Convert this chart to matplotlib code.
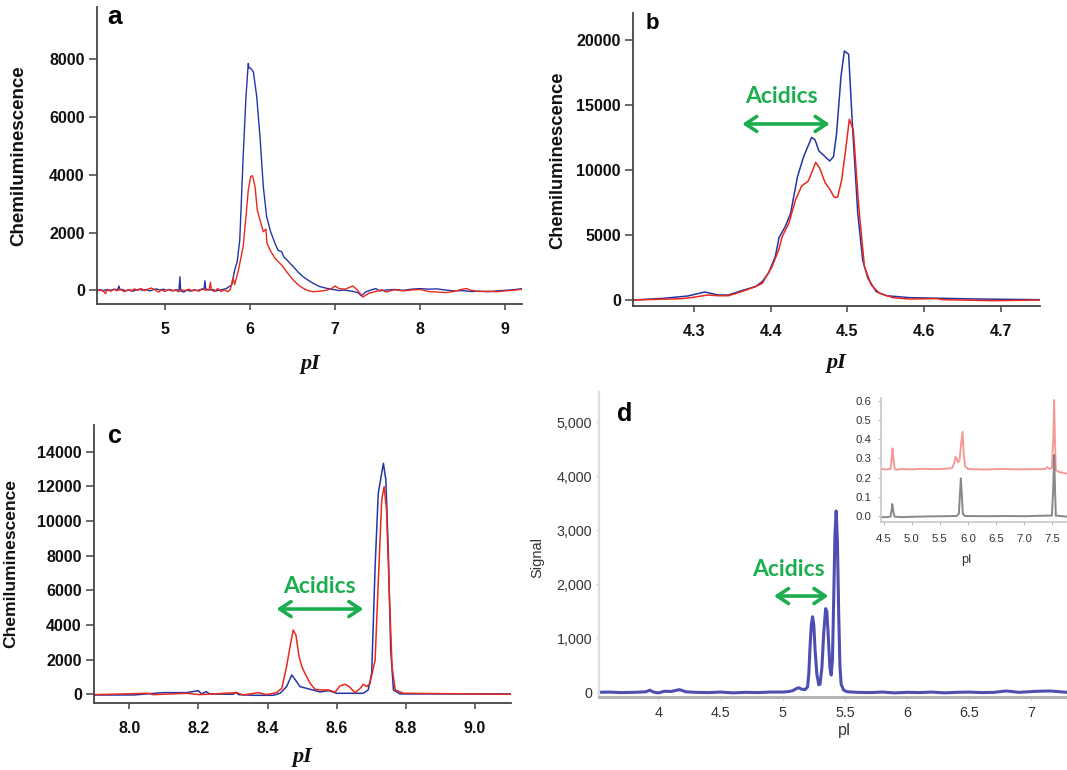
import matplotlib
matplotlib.use("Agg")
import matplotlib.pyplot as plt
from matplotlib.ticker import FuncFormatter, FixedLocator

# ---------------- data ----------------
# Panel a
a_blue_x = [4.204, 4.24, 4.28, 4.32, 4.36, 4.40, 4.44, 4.46, 4.47, 4.50, 4.54, 4.58, 4.62, 4.66, 4.70,
            4.74, 4.78, 4.82, 4.86, 4.90, 4.94, 4.98, 5.02, 5.06, 5.10, 5.14, 5.165, 5.176, 5.185, 5.22,
            5.26, 5.30, 5.34, 5.38, 5.42, 5.46, 5.47, 5.48, 5.52, 5.56, 5.60, 5.64, 5.68, 5.72, 5.75,
            5.785, 5.82, 5.85, 5.88, 5.92, 5.953, 5.98, 5.99, 6.008, 6.04, 6.08, 6.118, 6.157, 6.196,
            6.243, 6.294, 6.33, 6.372, 6.40, 6.43, 6.47, 6.51, 6.57, 6.627, 6.69, 6.745, 6.82, 6.902,
            6.95, 7.0, 7.05, 7.1, 7.2, 7.27, 7.31, 7.36, 7.42, 7.48, 7.52, 7.6, 7.7, 7.8, 7.9, 8.0,
            8.1, 8.2, 8.3, 8.4, 8.5, 8.6, 8.7, 8.8, 8.9, 9.0, 9.1, 9.205]
a_blue_y = [10, 20, -10, 30, 0, 40, 20, 150, 10, 30, -20, 20, -30, 10, 40,
            0, 30, -20, 20, 50, 10, 40, 0, 30, -20, 20, 0, 470, -20, -60,
            10, -30, 20, -10, 30, 40, 330, 50, 10, 30, -20, 10, 30, 60, 120,
            180, 700, 1000, 1740, 4630, 6700, 7860, 7700, 7690, 7570, 6700, 5320, 3590, 2550,
            2030, 1630, 1390, 1340, 1150, 1070, 940, 820, 620, 470, 340, 240, 130, 70,
            40, 20, -10, 10, -30, -80, -190, -60, 10, 60, -20, 10, 30, 0, 40, 60,
            40, 50, 10, -20, -10, -40, -30, -50, -20, 0, 20, 60]
a_red_x = [4.204, 4.24, 4.28, 4.30, 4.32, 4.36, 4.40, 4.44, 4.48, 4.52, 4.56, 4.60, 4.64, 4.68, 4.72,
           4.76, 4.80, 4.84, 4.88, 4.92, 4.96, 5.0, 5.04, 5.08, 5.12, 5.16, 5.20, 5.24, 5.28, 5.32,
           5.36, 5.40, 5.44, 5.48, 5.52, 5.535, 5.545, 5.58, 5.62, 5.66, 5.70, 5.74, 5.77, 5.80, 5.82,
           5.86, 5.92, 5.953, 5.98, 6.008, 6.03, 6.06, 6.086, 6.118, 6.157, 6.188, 6.2, 6.235, 6.294,
           6.353, 6.38, 6.43, 6.51, 6.57, 6.627, 6.69, 6.75, 6.82, 6.9, 6.97, 7.0, 7.05, 7.12, 7.21,
           7.26, 7.33, 7.4, 7.48, 7.55, 7.6, 7.7, 7.8, 7.9, 8.0, 8.1, 8.2, 8.3, 8.4, 8.5, 8.55, 8.6,
           8.7, 8.8, 8.9, 9.0, 9.1, 9.205]
a_red_y = [-20, 10, -40, -120, 20, -30, 30, -10, 40, -50, 20, -20, 50, 0, 60,
           -10, 40, 80, 20, -60, 10, -40, 30, -20, 20, -50, 20, -10, 40, -20,
           10, -30, 60, 0, 30, 280, 20, -40, 60, -40, 20, -50, 30, 420, 200,
           640, 1510, 2550, 3470, 3940, 3970, 3590, 2780, 2440, 2030, 2120, 1630, 1400, 1110,
           935, 850, 645, 357, 180, 70, -20, -50, -30, 0, 80, 150, 60, 40, 150,
           20, -230, -100, -40, 20, -60, 20, -20, 10, 30, -40, -60, -80, -40, 40, 60, 0,
           -40, -30, -50, -20, 0, 40]

# Panel b
b_blue_x = [4.221, 4.26, 4.292, 4.314, 4.332, 4.345, 4.362, 4.38, 4.389, 4.397, 4.406, 4.411, 4.419,
            4.426, 4.435, 4.443, 4.4535, 4.4578, 4.463, 4.47, 4.477, 4.482, 4.486, 4.4917, 4.4961,
            4.5017, 4.507, 4.5136, 4.52, 4.5268, 4.5377, 4.551, 4.5815, 4.6254, 4.669, 4.751]
b_blue_y = [0, 128, 308, 615, 385, 385, 718, 1026, 1410, 2050, 3330, 4820, 5640,
            6670, 9490, 11030, 12510, 12330, 11460, 11080, 10690, 11030, 12820, 17180, 19150,
            18900, 13080, 6670, 3080, 1670, 640, 330, 180, 130, 77, 25]
b_red_x = [4.221, 4.283, 4.296, 4.318, 4.332, 4.345, 4.362, 4.38, 4.389, 4.4018, 4.4105, 4.415, 4.4237,
           4.4324, 4.4404, 4.4491, 4.4588, 4.464, 4.471, 4.4763, 4.483, 4.4873, 4.4926, 4.4983,
           4.5026, 4.5078, 4.5149, 4.5223, 4.5312, 4.5421, 4.5596, 4.58, 4.617, 4.625, 4.69, 4.751]
b_red_y = [0, 100, 180, 385, 330, 330, 640, 1026, 1280, 2560, 3850, 4870, 5900,
           7690, 8770, 9150, 10590, 10130, 9030, 8590, 7900, 7900, 9230, 11790,
           13900, 13080, 7180, 2560, 1150, 510, 180, 77, 100, 25, -50, 0]

# Panel c
c_blue_x = [7.899, 8.012, 8.098, 8.166, 8.2, 8.209, 8.222, 8.233, 8.30, 8.309, 8.316, 8.359, 8.417,
            8.436, 8.455, 8.47, 8.479, 8.494, 8.523, 8.552, 8.576, 8.6, 8.677, 8.691, 8.701, 8.711,
            8.72, 8.735, 8.742, 8.749, 8.756, 8.764, 8.783, 8.841, 9.103]
c_blue_y = [-40, -40, 96, 96, 211, 20, 154, 20, 0, 115, -20, -58, -58,
            58, 442, 1115, 865, 442, 288, 135, 211, 58, 58, 250, 1210, 7365,
            11600, 13330, 12365, 8330, 2560, 250, 20, 20, 20]
c_red_x = [7.899, 8.055, 8.069, 8.166, 8.204, 8.31, 8.33, 8.373, 8.397, 8.426, 8.441, 8.455, 8.465,
           8.474, 8.482, 8.491, 8.499, 8.508, 8.523, 8.537, 8.552, 8.576, 8.595, 8.609, 8.624, 8.636,
           8.653, 8.667, 8.677, 8.687, 8.696, 8.711, 8.72, 8.73, 8.737, 8.744, 8.752, 8.76, 8.769,
           8.793, 9.103]
c_red_y = [-20, 58, -20, 58, -20, 96, -40, 96, -20, 96, 346, 1600, 2750,
           3710, 3420, 2170, 1600, 1210, 635, 288, 250, 250, 115, 480, 577, 442,
           96, 327, 577, 442, 635, 1980, 6400, 11210, 11980, 10650, 5830, 1600, 250,
           58, 0]

# Panel d
d_x = [3.518, 3.6, 3.7, 3.8, 3.9, 3.93, 3.96, 4.0, 4.05, 4.1, 4.17, 4.22, 4.3, 4.4, 4.5, 4.6, 4.7,
       4.8, 4.9, 5.0, 5.05, 5.08, 5.11, 5.13, 5.15, 5.18, 5.2, 5.21, 5.22, 5.23, 5.24, 5.25, 5.26,
       5.275, 5.29, 5.30, 5.315, 5.33, 5.345, 5.355, 5.365, 5.38, 5.39, 5.40, 5.41, 5.42, 5.43,
       5.44, 5.45, 5.46, 5.47, 5.49, 5.52, 5.6, 5.7, 5.8, 5.9, 6.0, 6.1, 6.2, 6.3, 6.4, 6.5, 6.6,
       6.7, 6.8, 6.9, 7.05, 7.15, 7.287]
d_y = [0, 5, -5, 0, 10, 40, 5, -10, 20, 15, 50, 10, 0, -5, 5, -10, 0,
       -5, 5, 5, 15, 30, 70, 85, 60, 50, 100, 350, 850, 1250, 1400, 1250, 800,
       330, 140, 150, 450, 1100, 1550, 1500, 1100, 450, 320, 600, 1700, 2900, 3360,
       2800, 1500, 500, 150, 40, 10, 0, -5, 5, -10, 0, -5, 5, -10, 0, 5, -5,
       0, 25, 0, 20, 25, 0]

# Inset of panel d
ins_red_x = [4.44, 4.55, 4.62, 4.64, 4.655, 4.67, 4.69, 4.72, 4.8, 5.0, 5.2, 5.4, 5.6, 5.72, 5.76,
             5.78, 5.8, 5.82, 5.85, 5.88, 5.905, 5.925, 5.95, 6.0, 6.3, 6.6, 6.9, 7.2, 7.38, 7.42,
             7.46, 7.5, 7.525, 7.54, 7.555, 7.57, 7.62, 7.77]
ins_red_y = [0.245, 0.242, 0.245, 0.30, 0.353, 0.30, 0.25, 0.24, 0.245, 0.243, 0.246, 0.244, 0.246,
             0.25, 0.28, 0.31, 0.30, 0.28, 0.29, 0.38, 0.44, 0.33, 0.26, 0.245, 0.242, 0.245, 0.243,
             0.244, 0.245, 0.255, 0.245, 0.25, 0.40, 0.607, 0.40, 0.24, 0.23, 0.22]
ins_blk_x = [4.44, 4.55, 4.62, 4.64, 4.65, 4.665, 4.69, 4.8, 5.0, 5.3, 5.6, 5.8, 5.84, 5.86, 5.875,
             5.89, 5.91, 5.95, 6.3, 6.7, 7.0, 7.4, 7.5, 7.525, 7.54, 7.555, 7.57, 7.77]
ins_blk_y = [-0.008, -0.008, -0.005, 0.03, 0.061, 0.03, -0.005, -0.008, -0.006, -0.004, -0.003,
             -0.002, 0.01, 0.12, 0.196, 0.12, 0.01, -0.002, -0.003, -0.002, -0.003, 0.0, 0.0, 0.15,
             0.318, 0.15, 0.0, -0.005]

a_xticks = [5, 6, 7, 8, 9]
a_yticks = [0, 2000, 4000, 6000, 8000]
b_xticks = [4.3, 4.4, 4.5, 4.6, 4.7]
b_yticks = [0, 5000, 10000, 15000, 20000]
c_xticks = [8.0, 8.2, 8.4, 8.6, 8.8, 9.0]
c_yticks = [0, 2000, 4000, 6000, 8000, 10000, 12000, 14000]
d_xticks = [4, 4.5, 5, 5.5, 6, 6.5, 7]
d_yticks = [0, 1000, 2000, 3000, 4000, 5000]
ins_xticks = [4.5, 5.0, 5.5, 6.0, 6.5, 7.0, 7.5]
ins_yticks = [0.0, 0.1, 0.2, 0.3, 0.4, 0.5, 0.6]

# ---------------- figure ----------------
W, H = 1067, 770
fig = plt.figure(figsize=(W / 100, H / 100), dpi=100)
fig.patch.set_facecolor("white")

SANS = "Liberation Sans"
SERIF = "Liberation Serif"
BLUE = "#2436a6"
RED = "#e8291c"
GREEN = "#1cae4e"


def add_ax(l, t, r, b):
    return fig.add_axes([l / W, 1 - b / H, (r - l) / W, (b - t) / H])


def ftext(x, y, s, **kw):
    fig.text(x / W, 1 - y / H, s, **kw)


def style_chemi(ax, xticks, yticks, xfmt):
    for s in ("top", "right"):
        ax.spines[s].set_visible(False)
    for s in ("left", "bottom"):
        ax.spines[s].set_color("#444444")
        ax.spines[s].set_linewidth(1.3)
    ax.set_xticks(xticks)
    ax.set_yticks(yticks)
    ax.xaxis.set_major_formatter(FuncFormatter(xfmt))
    ax.yaxis.set_major_formatter(FuncFormatter(lambda v, p: f"{int(round(v))}"))
    ax.tick_params(axis="x", direction="out", length=4, width=1.1, color="#444444", pad=9)
    ax.tick_params(axis="y", direction="out", length=6, width=1.1, color="#444444", pad=3)
    for lab in ax.get_xticklabels() + ax.get_yticklabels():
        lab.set_fontfamily(SANS)
        lab.set_fontweight("bold")
        lab.set_fontsize(11.5)
        lab.set_color("#111111")


def acidics(ax, x0, x1, ya, xt, yt):
    ax.annotate("", xy=(x1, ya), xytext=(x0, ya),
                arrowprops=dict(arrowstyle="<->, head_length=0.45, head_width=0.3",
                                color=GREEN, lw=2.6, shrinkA=0, shrinkB=0, mutation_scale=18))
    ax.text(xt, yt, "Acidics", color=GREEN, fontfamily="Lato", fontweight="bold",
            fontsize=16.5, ha="center", va="center")


# Panel a
ax_a = add_ax(97.3, 7.3, 522.4, 304.3)
ax_a.plot(a_blue_x, a_blue_y, color=BLUE, lw=1.0)
ax_a.plot(a_red_x, a_red_y, color=RED, lw=1.0)
ax_a.set_xlim(4.204, 9.205)
ax_a.set_ylim(-484, 9803)
style_chemi(ax_a, a_xticks, a_yticks, lambda v, p: f"{int(round(v))}")

# Panel b
ax_b = add_ax(633.4, 13.3, 1039.8, 305.7)
ax_b.plot(b_blue_x, b_blue_y, color=BLUE, lw=1.1)
ax_b.plot(b_red_x, b_red_y, color=RED, lw=1.1)
ax_b.set_xlim(4.221, 4.751)
ax_b.set_ylim(-438, 22050)
style_chemi(ax_b, b_xticks, b_yticks, lambda v, p: f"{v:.1f}")
acidics(ax_b, 4.363, 4.477, 13540, 4.414, 15640)

# Panel c
ax_c = add_ax(94.3, 425, 510.7, 702.7)
ax_c.plot(c_blue_x, c_blue_y, color=BLUE, lw=1.1)
ax_c.plot(c_red_x, c_red_y, color=RED, lw=1.1)
ax_c.set_xlim(7.899, 9.103)
ax_c.set_ylim(-485, 15540)
style_chemi(ax_c, c_xticks, c_yticks, lambda v, p: f"{v:.1f}")
acidics(ax_c, 8.426, 8.677, 4920, 8.55, 6210)

# Panel d
ax_d = add_ax(598.5, 391.7, 1067, 696.7)
ax_d.plot(d_x, d_y, color="#3b3ba8", lw=2.2, alpha=0.9, solid_capstyle="round")
ax_d.set_xlim(3.518, 7.287)
ax_d.set_ylim(-81, 5567)
for s in ("top", "right"):
    ax_d.spines[s].set_visible(False)
ax_d.spines["left"].set_color("#dddddd")
ax_d.spines["left"].set_linewidth(1.6)
ax_d.spines["bottom"].set_color("#b0b0b0")
ax_d.spines["bottom"].set_linewidth(2.0)
ax_d.set_xticks(d_xticks)
ax_d.set_yticks(d_yticks)
ax_d.xaxis.set_major_formatter(FuncFormatter(lambda v, p: f"{v:g}"))
ax_d.yaxis.set_major_formatter(FuncFormatter(lambda v, p: f"{int(v):,}"))
ax_d.tick_params(axis="both", direction="out", length=2.5, width=0.8, color="#cccccc", pad=2)
ax_d.tick_params(axis="x", pad=4)
for lab in ax_d.get_xticklabels() + ax_d.get_yticklabels():
    lab.set_fontfamily(SANS)
    lab.set_fontsize(10.3)
    lab.set_color("#333333")
acidics(ax_d, 4.93, 5.368, 1783, 5.05, 2278)

# Inset
ax_i = add_ax(880.5, 398.3, 1067, 522.3)
ax_i.plot(ins_red_x, ins_red_y, color="#f28a84", lw=1.4, alpha=0.85)
ax_i.plot(ins_blk_x, ins_blk_y, color="#6a6a6a", lw=1.4, alpha=0.8)
ax_i.set_xlim(4.44, 7.77)
ax_i.set_ylim(-0.035, 0.616)
for s in ("top", "right"):
    ax_i.spines[s].set_visible(False)
ax_i.spines["left"].set_color("#c8c8c8")
ax_i.spines["bottom"].set_color("#c8c8c8")
ax_i.spines["left"].set_linewidth(1.2)
ax_i.spines["bottom"].set_linewidth(1.2)
ax_i.set_xticks(ins_xticks)
ax_i.set_yticks(ins_yticks)
ax_i.xaxis.set_major_formatter(FuncFormatter(lambda v, p: f"{v:.1f}"))
ax_i.yaxis.set_major_formatter(FuncFormatter(lambda v, p: f"{v:.1f}"))
ax_i.tick_params(axis="both", direction="out", length=2.5, width=0.8, color="#bbbbbb", pad=4)
ax_i.tick_params(axis="x", pad=6)
for lab in ax_i.get_xticklabels() + ax_i.get_yticklabels():
    lab.set_fontfamily(SANS)
    lab.set_fontsize(8.2)
    lab.set_color("#333333")

# Axis labels (placed in figure pixels)
for (x, y, fs) in [(19, 156, 13.5), (557.5, 160, 13.2), (10.7, 563, 12.6)]:
    ftext(x, y, "Chemiluminescence", rotation=90, ha="center", va="center",
          fontfamily=SANS, fontweight="bold", fontsize=fs, color="#111111")
for (x, y) in [(310, 364), (836, 363), (302, 757)]:
    ftext(x, y, "pI", ha="center", va="center", fontfamily=SERIF, fontweight="bold",
          fontstyle="italic", fontsize=16, color="#111111")
ftext(537, 557, "Signal", rotation=90, ha="center", va="center", fontfamily=SANS,
      fontsize=10.5, color="#333333")
ftext(845, 730, "pI", ha="center", va="center", fontfamily=SANS, fontsize=11.5, color="#333333")
ftext(966.7, 560, "pI", ha="center", va="center", fontfamily=SANS, fontsize=9, color="#333333")

# Panel letters
for (x, y, s, fs) in [(114.5, 24, "a", 19), (652.6, 28.6, "b", 16), (115, 442.7, "c", 18),
                      (625, 420.7, "d", 18)]:
    ftext(x, y, s, ha="center", va="baseline", fontfamily=SANS, fontweight="bold",
          fontsize=fs, color="#000000")

fig.savefig("out.png", dpi=100, facecolor="white")
